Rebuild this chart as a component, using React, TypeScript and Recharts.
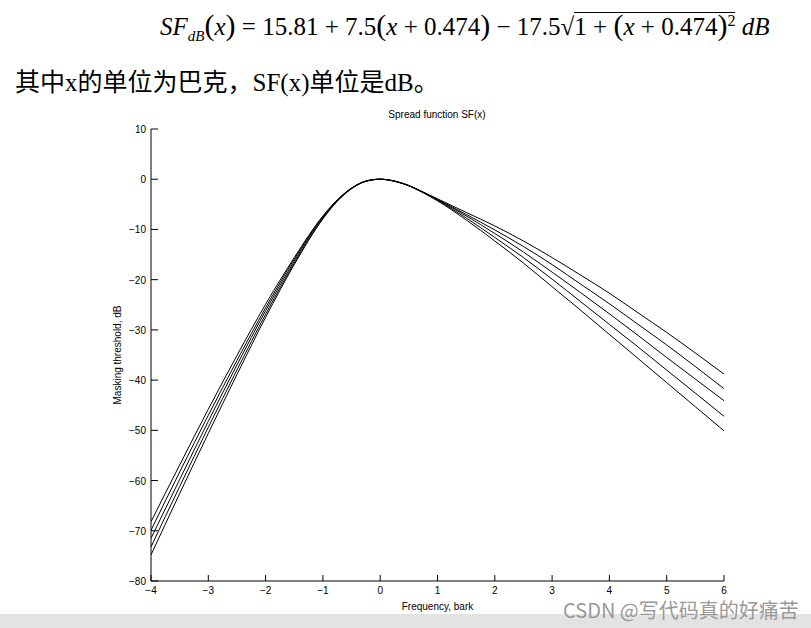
import { Label, Line, LineChart, XAxis, YAxis } from "recharts";

// frequency in bark
const barks = [
  -4, -3.5, -3, -2.5, -2, -1.5, -1, -0.75, -0.5, -0.25, 0, 0.25, 0.5, 0.75, 1,
  1.5, 2, 2.5, 3, 3.5, 4, 4.5, 5, 5.5, 6,
];

// masking threshold (dB), widest curve first, narrowest last
const sf1 = [
  -68.2, -56.9, -45.8, -35.1, -24.9, -15.6, -7.3, -4.1, -1.75, -0.35, 0, -0.35,
  -1.25, -2.55, -3.9, -6.6, -9.3, -12.3, -15.6, -19.1, -22.7, -26.6, -30.5,
  -34.6, -38.8,
];
const sf2 = [
  -69.9, -58.3, -47.0, -36.1, -25.6, -15.9, -7.5, -4.2, -1.8, -0.4, 0, -0.38,
  -1.25, -2.6, -4.0, -7.0, -10.1, -13.4, -17.0, -20.9, -24.8, -28.9, -33.0,
  -37.3, -41.7,
];
const sf3 = [
  -71.5, -59.8, -48.2, -37.0, -26.2, -16.3, -7.6, -4.3, -1.8, -0.4, 0, -0.4,
  -1.3, -2.6, -4.1, -7.3, -10.8, -14.5, -18.5, -22.6, -26.8, -31.1, -35.5,
  -39.8, -44.1,
];
const sf4 = [
  -73.2, -61.2, -49.4, -38.0, -26.9, -16.7, -7.8, -4.3, -1.85, -0.4, 0, -0.4,
  -1.3, -2.65, -4.2, -7.7, -11.6, -15.6, -19.9, -24.4, -28.9, -33.4, -38.0,
  -42.6, -47.2,
];
const sf5 = [
  -74.8, -62.6, -50.6, -38.9, -27.5, -17.0, -7.9, -4.4, -1.9, -0.4, 0, -0.4,
  -1.3, -2.7, -4.3, -8.1, -12.3, -16.7, -21.4, -26.1, -30.9, -35.7, -40.5,
  -45.3, -50.1,
];

const xTicks = [-4, -3, -2, -1, 0, 1, 2, 3, 4, 5, 6];
const yTicks = [-80, -70, -60, -50, -40, -30, -20, -10, 0, 10];

const curves = [sf1, sf2, sf3, sf4, sf5];

const data = barks.map((x, i) => {
  const row: { [k: string]: number } = { x };
  curves.forEach((c, j) => {
    row["sf" + (j + 1)] = c[i];
  });
  return row;
});

const axisFont = {
  fontFamily: '"Liberation Sans", Arial, sans-serif',
  fontSize: 10,
  fill: "#000",
};

const fmt = (v: number) => (v < 0 ? "\u2212" + Math.abs(v) : String(v));

// ticks point into the plot, like the matlab original
// (tickSize and tickMargin are 0 so x/y sit on the axis line)
function BottomTick(props: any) {
  const { x, y, payload } = props;
  return (
    <g>
      <line x1={x} y1={y} x2={x} y2={y - 6} stroke="#000" />
      <text x={x} y={y + 13} textAnchor="middle" {...axisFont}>
        {fmt(payload.value)}
      </text>
    </g>
  );
}

function LeftTick(props: any) {
  const { x, y, payload } = props;
  return (
    <g>
      <line x1={x} y1={y} x2={x + 7} y2={y} stroke="#000" />
      <text x={x - 5} y={y + 4} textAnchor="end" {...axisFont}>
        {fmt(payload.value)}
      </text>
    </g>
  );
}

const big = { fontSize: 30, lineHeight: 0 };

export default function App() {
  return (
    <div
      style={{
        position: "absolute",
        left: 0,
        top: 0,
        width: 811,
        height: 628,
        background: "#fff",
        overflow: "hidden",
      }}
    >
      <div
        style={{
          position: "absolute",
          left: 160,
          top: 12,
          fontFamily: '"Liberation Serif", "Times New Roman", serif',
          fontSize: 25,
          whiteSpace: "nowrap",
          color: "#000",
        }}
      >
        <i>SF</i>
        <sub style={{ fontSize: 15 }}>
          <i>dB</i>
        </sub>
        <span style={big}>(</span>
        <i>x</i>
        <span style={big}>)</span> = 15.81 + 7.5<span style={big}>(</span>
        <i>x</i> + 0.474<span style={big}>)</span> − 17.5√
        <span style={{ borderTop: "1px solid #000" }}>
          1 + <span style={big}>(</span>
          <i>x</i> + 0.474<span style={big}>)</span>
          <sup style={{ fontSize: 16 }}>2</sup>
        </span>{" "}
        <i>dB</i>
      </div>

      <div
        style={{
          position: "absolute",
          left: 15,
          top: 62,
          fontFamily: '"Liberation Serif", "Noto Sans CJK SC", serif',
          fontSize: 25,
          whiteSpace: "nowrap",
          color: "#000",
        }}
      >
        <span style={{ fontFamily: '"Noto Sans CJK SC", sans-serif' }}>其中</span>x
        <span style={{ fontFamily: '"Noto Sans CJK SC", sans-serif' }}>的单位为巴克，</span>
        SF(x)
        <span style={{ fontFamily: '"Noto Sans CJK SC", sans-serif' }}>单位是</span>dB
        <span style={{ fontFamily: '"Noto Sans CJK SC", sans-serif' }}>。</span>
      </div>

      <div
        style={{
          position: "absolute",
          left: 0,
          top: 100,
          width: 811,
        }}
      >
        <LineChart
          width={811}
          height={528}
          data={data}
          margin={{ top: 29, right: 87, bottom: 17, left: 111 }}
        >
          <text x={437} y={18} textAnchor="middle" {...axisFont}>
            Spread function SF(x)
          </text>
          <XAxis
            dataKey="x"
            type="number"
            domain={[-4, 6]}
            ticks={xTicks}
            allowDataOverflow
            height={30}
            stroke="#000"
            tickLine={false}
            tickSize={0}
            tickMargin={0}
            tick={<BottomTick />}
          >
            <Label
              value="Frequency, bark"
              position="insideBottom"
              offset={1}
              style={axisFont}
            />
          </XAxis>
          <YAxis
            type="number"
            domain={[-80, 10]}
            ticks={yTicks}
            allowDataOverflow
            width={40}
            stroke="#000"
            tickLine={false}
            tickSize={0}
            tickMargin={0}
            tick={<LeftTick />}
          >
            <Label
              value="Masking threshold, dB"
              angle={-90}
              position="insideLeft"
              offset={6}
              style={{ ...axisFont, textAnchor: "middle" }}
            />
          </YAxis>
          {curves.map((_, j) => (
            <Line
              key={j}
              type="monotone"
              dataKey={"sf" + (j + 1)}
              stroke="#000"
              strokeWidth={1}
              dot={false}
              isAnimationActive={false}
            />
          ))}
        </LineChart>
      </div>

      <div
        style={{
          position: "absolute",
          left: 0,
          top: 614,
          width: 811,
          height: 14,
          background: "#e3e3e3",
        }}
      />
      <div
        style={{
          position: "absolute",
          left: 563,
          top: 595,
          fontFamily: '"Noto Sans CJK SC", sans-serif',
          fontSize: 20,
          color: "#999",
          whiteSpace: "nowrap",
        }}
      >
        CSDN @写代码真的好痛苦
      </div>
    </div>
  );
}
